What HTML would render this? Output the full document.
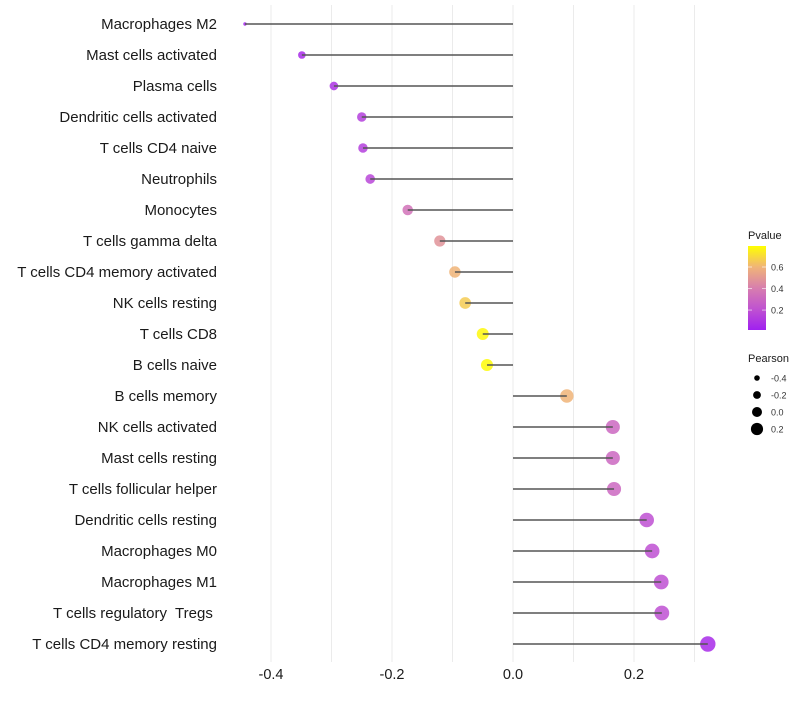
<!DOCTYPE html>
<html><head><meta charset="utf-8"><style>
body{margin:0;background:#fff;}
svg text{font-family:"Liberation Sans",sans-serif;white-space:pre;}
</style></head><body>
<svg id="chart" width="800" height="700" xmlns="http://www.w3.org/2000/svg"></svg>
<script>
const categories=["Macrophages M2","Mast cells activated","Plasma cells","Dendritic cells activated","T cells CD4 naive","Neutrophils","Monocytes","T cells gamma delta","T cells CD4 memory activated","NK cells resting","T cells CD8","B cells naive","B cells memory","NK cells activated","Mast cells resting","T cells follicular helper","Dendritic cells resting","Macrophages M0","Macrophages M1","T cells regulatory  Tregs ","T cells CD4 memory resting"];
const pearson=[-0.443,-0.349,-0.296,-0.250,-0.248,-0.236,-0.174,-0.121,-0.096,-0.079,-0.050,-0.043,0.089,0.165,0.165,0.167,0.221,0.230,0.245,0.246,0.322];
const pvalues=[0.02,0.05,0.08,0.13,0.13,0.16,0.35,0.48,0.6,0.66,0.78,0.79,0.6,0.3,0.3,0.3,0.2,0.2,0.2,0.2,0.05];
const xTicks=[-0.4,-0.2,0.0,0.2];
const xTickLabels=["-0.4","-0.2","0.0","0.2"];
const xMinor=[-0.3,-0.1,0.1,0.3];
const legendSizes=[-0.4,-0.2,0.0,0.2];
const legendP=[0.2,0.4,0.6];

const NS="http://www.w3.org/2000/svg";
const svg=document.getElementById('chart');
function el(t,a,p){const e=document.createElementNS(NS,t);for(const k in a)e.setAttribute(k,a[k]);(p||svg).appendChild(e);return e;}
const x=v=>513+v*605;
const y=i=>24+i*31;
const r=v=>1.7+6*Math.sqrt(Math.max(0,(v+0.443)/0.765));
const stops=[[0,[160,32,240]],[0.2,[190,80,210]],[0.4,[215,125,175]],[0.6,[240,180,120]],[0.8,[255,255,0]]];
function col(p){p=Math.min(0.8,Math.max(0,p));for(let i=0;i<stops.length-1;i++){const[a,c1]=stops[i],[b,c2]=stops[i+1];if(p<=b){const t=(p-a)/(b-a);return`rgb(${c1.map((c,j)=>Math.round(c+(c2[j]-c)*t)).join(',')})`;}}return'rgb(255,255,0)';}

xMinor.concat(xTicks).forEach(v=>{const g=el('line',{x1:x(v),x2:x(v),y1:5,y2:662,stroke:'#ebebeb','stroke-width':1});

});

categories.forEach((c,i)=>{
 const t=el('text',{x:217,y:y(i)+5,'text-anchor':'end','font-size':15,fill:'#1a1a1a'});t.textContent=c;
 
 
 const dot=el('circle',{cx:x(pearson[i]),cy:y(i),r:r(pearson[i]),fill:col(pvalues[i]),'fill-opacity':0.85});
 
 
 const ln=el('line',{x1:x(0),x2:x(pearson[i]),y1:y(i),y2:y(i),stroke:'#555','stroke-width':1.4});
 
 
});
xTicks.forEach((v,i)=>{const t=el('text',{x:x(v),y:679,'text-anchor':'middle','font-size':14.5,fill:'#1a1a1a'});t.textContent=xTickLabels[i];

});

const lt=el('text',{x:748,y:239,'font-size':11,fill:'#1a1a1a'});lt.textContent='Pvalue';


const defs=el('defs',{});const lg=el('linearGradient',{id:'pg',x1:0,y1:1,x2:0,y2:0},defs);
stops.forEach(s=>el('stop',{offset:(s[0]-0.015)/0.78,'stop-color':col(s[0])},lg));
const bar=el('rect',{x:748,y:246,width:18,height:84,fill:'url(#pg)'});


const py=p=>330-(p-0.015)/0.78*84;
legendP.forEach(p=>{el('line',{x1:748,x2:752,y1:py(p),y2:py(p),stroke:'#fff','stroke-opacity':0.6});el('line',{x1:762,x2:766,y1:py(p),y2:py(p),stroke:'#fff','stroke-opacity':0.6});
 const t=el('text',{x:771,y:py(p)+3.5,'font-size':9,fill:'#333'});t.textContent=p.toFixed(1);
 
 });

const st=el('text',{x:748,y:362,'font-size':11,fill:'#1a1a1a'});st.textContent='Pearson';


legendSizes.forEach((v,i)=>{const cy=378+i*17;
 const c=el('circle',{cx:757,cy:cy,r:2.8+i*1.1,fill:'#000'});
 
 
 const t=el('text',{x:771,y:cy+3.5,'font-size':9,fill:'#333'});t.textContent=v.toFixed(1);
 
 });
</script>
</body></html>
